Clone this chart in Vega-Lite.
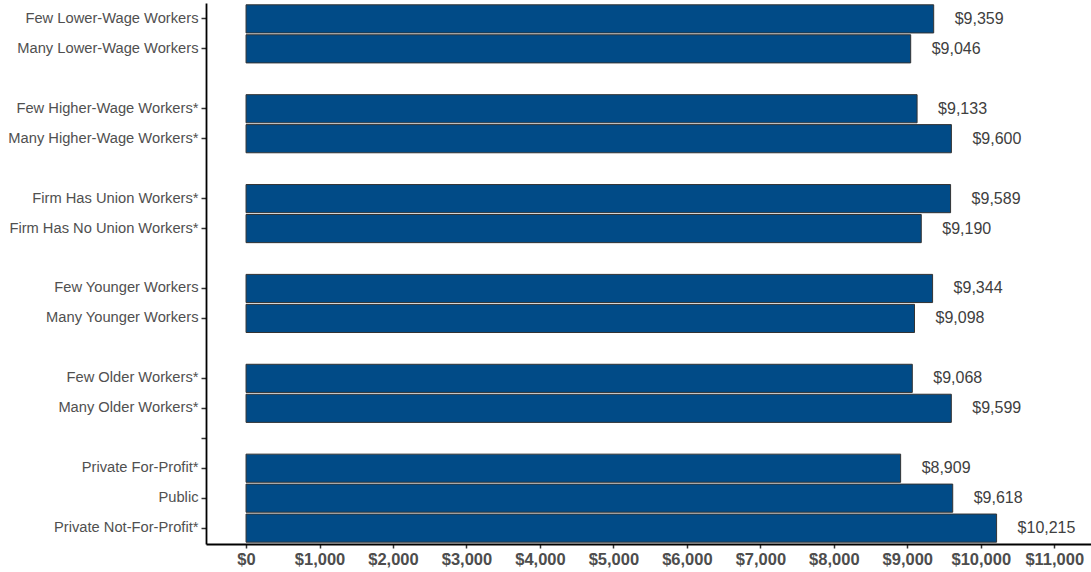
{
  "$schema": "https://vega.github.io/schema/vega-lite/v6.json",
  "autosize": {"type": "none"},
  "padding": {"left": 206, "top": 3, "right": 0, "bottom": 28},
  "width": 885,
  "height": 541,
  "config": {"view": {"stroke": null}, "font": "Liberation Sans"},
  "data": {"values": [
    {"cat": "Few Lower-Wage Workers", "value": 9359},
    {"cat": "Many Lower-Wage Workers", "value": 9046},
    {"cat": "Few Higher-Wage Workers*", "value": 9133},
    {"cat": "Many Higher-Wage Workers*", "value": 9600},
    {"cat": "Firm Has Union Workers*", "value": 9589},
    {"cat": "Firm Has No Union Workers*", "value": 9190},
    {"cat": "Few Younger Workers", "value": 9344},
    {"cat": "Many Younger Workers", "value": 9098},
    {"cat": "Few Older Workers*", "value": 9068},
    {"cat": "Many Older Workers*", "value": 9599},
    {"cat": "Private For-Profit*", "value": 8909},
    {"cat": "Public", "value": 9618},
    {"cat": "Private Not-For-Profit*", "value": 10215}
  ]},
  "encoding": {
    "y": {
      "field": "cat", "type": "nominal", "title": null,
      "scale": {
        "domain": ["Few Lower-Wage Workers", "Many Lower-Wage Workers", "blank1", "Few Higher-Wage Workers*", "Many Higher-Wage Workers*", "blank2", "Firm Has Union Workers*", "Firm Has No Union Workers*", "blank3", "Few Younger Workers", "Many Younger Workers", "blank4", "Few Older Workers*", "Many Older Workers*", "blank5", "Private For-Profit*", "Public", "Private Not-For-Profit*"],
        "paddingInner": 0.06, "paddingOuter": 0.06
      },
      "axis": {
        "labelExpr": "indexof(datum.value, 'blank') == 0 ? '' : datum.value",
        "labelFontSize": 14.7, "labelColor": "#505050", "labelPadding": 3, "labelLimit": 400,
        "tickSize": 5, "tickWidth": 1.5, "tickColor": "#333333",
        "tickOpacity": {"condition": {"test": "indexof(datum.value, 'blank') == 0 && datum.value != 'blank5'", "value": 0}, "value": 1},
        "domainColor": "#000000", "domainWidth": 1.8
      }
    },
    "x": {
      "field": "value", "type": "quantitative", "title": null,
      "scale": {"domain": [-545, 11500], "nice": false, "zero": false},
      "axis": {
        "values": [0, 1000, 2000, 3000, 4000, 5000, 6000, 7000, 8000, 9000, 10000, 11000],
        "format": "$,.0f", "grid": false,
        "labelFontSize": 16.5, "labelFontWeight": "bold", "labelColor": "#4D4D4D", "labelPadding": 3,
        "tickSize": 4, "tickWidth": 1.5, "tickColor": "#333333",
        "domainColor": "#000000", "domainWidth": 1.8
      }
    }
  },
  "layer": [
    {
      "mark": {"type": "bar", "color": "#014B87", "stroke": "#333333", "strokeWidth": 1},
      "encoding": {"x2": {"datum": 0}}
    },
    {
      "mark": {"type": "text", "align": "left", "baseline": "middle", "dx": 21, "fontSize": 16, "color": "#404040"},
      "encoding": {"text": {"field": "value", "type": "quantitative", "format": "$,.0f"}}
    }
  ]
}
